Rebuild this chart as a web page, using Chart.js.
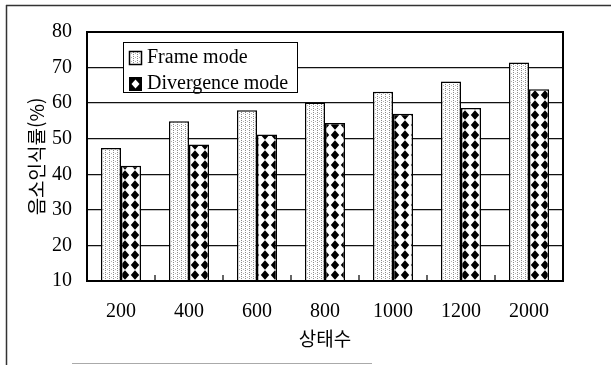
<!DOCTYPE html>
<html lang="ko">
<head>
    <meta charset="UTF-8">
    <title>상태수에 따른 음소인식률</title>
    <style>
        body {
            margin: 0;
            background-color: #fff;
        }
        canvas {
            display: block;
        }
    </style>
</head>
<body>
    <canvas id="chartCanvas" width="611" height="365"></canvas>
    <script src="https://cdn.jsdelivr.net/npm/chart.js"></script>
    <script>
        // 데이터
        const categories = ['200', '400', '600', '800', '1000', '1200', '2000'];
        const frameMode = [47.4, 54.9, 58.0, 60.2, 63.2, 66.1, 71.4];
        const divergenceMode = [42.4, 48.4, 51.2, 54.4, 57.0, 58.6, 63.9];
        const seriesNames = ['Frame mode', 'Divergence mode'];
        const yTicks = [10, 20, 30, 40, 50, 60, 70, 80];

        const serif = '"Liberation Serif", "DejaVu Serif", serif';
        const korean = '"Noto Sans CJK KR", sans-serif';

        // 점무늬 (Frame mode)
        function makeDots() {
            const c = document.createElement('canvas');
            c.width = 4;
            c.height = 4;
            const g = c.getContext('2d');
            g.fillStyle = '#fff';
            g.fillRect(0, 0, 4, 4);
            g.fillStyle = '#8a8a8a';
            g.fillRect(1, 0, 1, 1);
            g.fillRect(1, 2, 1, 1);
            g.fillStyle = '#b5b5b5';
            g.fillRect(3, 1, 1, 1);
            return g.createPattern(c, 'repeat');
        }

        // 마름모 무늬 (Divergence mode)
        function makeDiamonds() {
            const c = document.createElement('canvas');
            c.width = 10;
            c.height = 10;
            const g = c.getContext('2d');
            g.fillStyle = '#fff';
            g.fillRect(0, 0, 10, 10);
            g.fillStyle = '#000';
            g.beginPath();
            g.moveTo(5, 0.3);
            g.lineTo(9.2, 5);
            g.lineTo(5, 9.7);
            g.lineTo(0.8, 5);
            g.closePath();
            g.fill();
            return g.createPattern(c, 'repeat');
        }

        const dots = makeDots();
        const diamonds = makeDiamonds();

        // 바깥 테두리, 그림 영역 테두리, 눈금, 범례
        const decorations = {
            id: 'decorations',
            beforeDraw(chart) {
                const ctx = chart.ctx;
                ctx.save();
                ctx.fillStyle = '#fff';
                ctx.fillRect(0, 0, chart.width, chart.height);
                ctx.strokeStyle = '#333';
                ctx.lineWidth = 1.5;
                ctx.beginPath();
                ctx.moveTo(6, 5.5);
                ctx.lineTo(611, 5.5);
                ctx.moveTo(6.5, 5);
                ctx.lineTo(6.5, 365);
                ctx.stroke();
                ctx.strokeStyle = '#aaa';
                ctx.lineWidth = 1;
                ctx.beginPath();
                ctx.moveTo(72, 363.5);
                ctx.lineTo(372, 363.5);
                ctx.stroke();
                ctx.restore();
            },
            afterDraw(chart) {
                const ctx = chart.ctx;
                const a = chart.chartArea;
                const x = chart.scales.x;
                ctx.save();
                ctx.strokeStyle = '#000';
                ctx.lineWidth = 2;
                ctx.strokeRect(a.left, a.top, a.right - a.left, a.bottom - a.top);

                // 항목 경계의 안쪽 눈금
                ctx.lineWidth = 1.2;
                ctx.beginPath();
                for (let i = 1; i < categories.length; i++) {
                    const px = (x.getPixelForValue(i - 1) + x.getPixelForValue(i)) / 2;
                    ctx.moveTo(px, a.bottom);
                    ctx.lineTo(px, a.bottom - 6);
                }
                ctx.stroke();

                // 범례
                ctx.fillStyle = '#fff';
                ctx.fillRect(123.5, 42.5, 174, 50);
                ctx.lineWidth = 1;
                ctx.strokeRect(123.5, 42.5, 174, 50);
                ctx.font = '20px ' + serif;
                ctx.textBaseline = 'middle';
                const rows = [58, 84];
                chart.data.datasets.forEach((ds, i) => {
                    const cy = rows[i];
                    if (i === 0) {
                        ctx.fillStyle = dots;
                        ctx.fillRect(129.5, cy - 6.5, 12, 13);
                        ctx.lineWidth = 1.5;
                        ctx.strokeRect(129.5, cy - 6.5, 12, 13);
                    } else {
                        ctx.fillStyle = '#000';
                        ctx.fillRect(129, cy - 7, 13, 14);
                        ctx.fillStyle = '#fff';
                        ctx.beginPath();
                        ctx.moveTo(135.5, cy - 4.5);
                        ctx.lineTo(139.5, cy);
                        ctx.lineTo(135.5, cy + 4.5);
                        ctx.lineTo(131.5, cy);
                        ctx.closePath();
                        ctx.fill();
                    }
                    ctx.fillStyle = '#000';
                    ctx.fillText(ds.label, 147, cy);
                });
                ctx.restore();
            }
        };

        const ctx = document.getElementById('chartCanvas').getContext('2d');
        const chart = new Chart(ctx, {
            type: 'bar',
            data: {
                labels: categories,
                datasets: [
                    {
                        label: seriesNames[0],
                        data: frameMode,
                        backgroundColor: dots,
                        borderColor: '#000',
                        borderWidth: 1.5
                    },
                    {
                        label: seriesNames[1],
                        data: divergenceMode,
                        backgroundColor: diamonds,
                        borderColor: '#000',
                        borderWidth: 1.5
                    }
                ]
            },
            options: {
                responsive: false,
                animation: false,
                layout: {
                    padding: { top: 32, right: 48, left: 0, bottom: 0 }
                },
                datasets: {
                    bar: {
                        categoryPercentage: 0.59,
                        barPercentage: 1
                    }
                },
                plugins: {
                    legend: { display: false },
                    tooltip: { enabled: false }
                },
                scales: {
                    x: {
                        grid: { display: false },
                        border: { display: false },
                        ticks: {
                            color: '#000',
                            padding: 11,
                            font: { family: serif, size: 20 }
                        },
                        title: {
                            display: true,
                            text: '상태수',
                            color: '#000',
                            padding: { top: 0, bottom: 15 },
                            font: { family: korean, size: 19, lineHeight: 1.2 }
                        },
                        afterFit(scale) {
                            scale.height = 84;
                        }
                    },
                    y: {
                        min: yTicks[0],
                        max: yTicks[yTicks.length - 1],
                        afterBuildTicks(scale) {
                            scale.ticks = yTicks.map(v => ({ value: v }));
                        },
                        grid: {
                            color: '#111',
                            lineWidth: 1.3,
                            drawTicks: false
                        },
                        border: { color: '#000', width: 2 },
                        ticks: {
                            color: '#000',
                            padding: 15,
                            font: { family: serif, size: 20 }
                        },
                        title: {
                            display: true,
                            text: '음소인식률(%)',
                            color: '#000',
                            padding: { top: 25, bottom: 0 },
                            font: { family: korean, size: 19, lineHeight: 1.2 }
                        },
                        afterFit(scale) {
                            scale.width = 87;
                        }
                    }
                }
            },
            plugins: [decorations]
        });
    </script>
</body>
</html>
